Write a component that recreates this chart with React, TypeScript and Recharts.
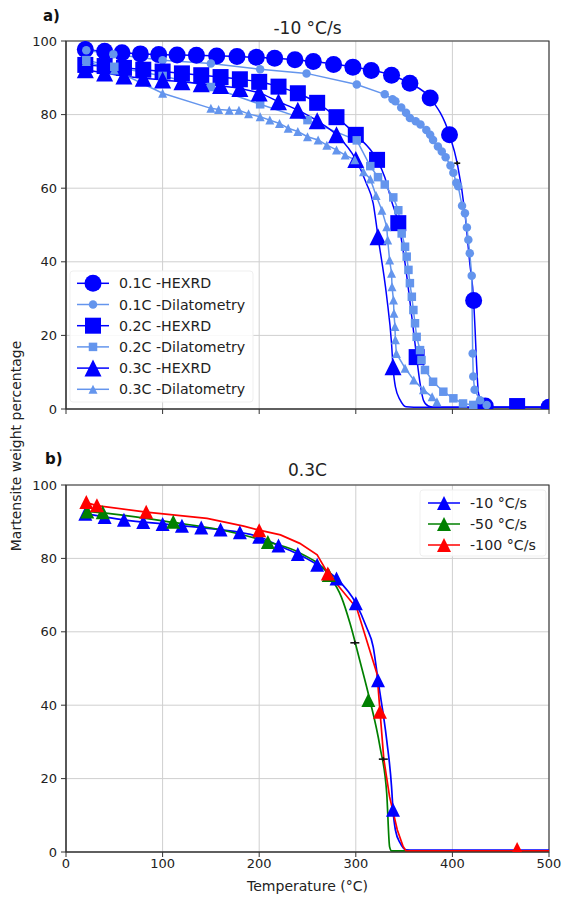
import React from "react";
import { ComposedChart, Line, XAxis, YAxis, CartesianGrid, ReferenceArea } from "recharts";

type Pt = [number, number];

const xTicks = [0, 100, 200, 300, 400, 500];
const yTicks = [0, 20, 40, 60, 80, 100];

// panel a) -10 °C/s, markers and fitted curves
const hexrd01: Pt[] = [
  [20, 97.7], [40, 97.2], [58, 96.8], [77, 96.5], [96, 96.3], [115, 96.2], [135, 96.1], [156, 95.9],
  [177, 95.8], [197, 95.6], [216, 95.3], [237, 94.9], [256, 94.4], [277, 93.6], [297, 92.9], [316, 92.0],
  [337, 90.7], [356, 88.5], [377, 84.5], [397, 74.5], [422, 29.5], [434, 0.8], [500, 0.5],
];
const hexrd01Fit: Pt[] = [
  [20, 97.7], [58, 96.8], [96, 96.3], [135, 96.1], [177, 95.8], [216, 95.3], [256, 94.4], [297, 92.9],
  [337, 90.7], [356, 88.5], [377, 84.5], [397, 74.5], [405, 66.8], [413, 53.2], [418, 39.6], [422, 29.5],
  [423.5, 21.5], [425, 12.4], [427, 4.3], [432, 1.0], [440, 0.5], [500, 0.5],
];
const dil01: Pt[] = [
  [21, 97.5], [49, 96.4], [100, 94.8], [150, 93.9], [201, 92.3], [249, 91.2], [301, 88.2], [330, 85.5],
  [338, 84.2], [341, 83.6], [347, 81.9], [352, 80.5], [356, 79.1], [362, 78.2], [367, 77.3], [373, 75.8],
  [377, 74.5], [380, 73.1], [385, 71.3], [389, 70.0], [393, 68.4], [398, 66.2], [401, 64.2], [404, 61.5],
  [406, 60.5], [410, 55.2], [413, 53.2], [415, 49.3], [416.5, 46], [418, 42.3], [420, 36.2], [421, 15.1],
  [421.6, 8.8], [423, 5.2], [428.6, 2.4], [435.5, 1.1],
];
const hexrd02: Pt[] = [
  [20, 93.5], [40, 93.2], [60, 92.7], [80, 92.2], [100, 91.7], [120, 91.2], [140, 90.7], [160, 90.2],
  [180, 89.6], [200, 88.9], [220, 87.6], [240, 85.8], [260, 83.2], [280, 79.3], [300, 74.5], [322, 67.7],
  [344, 50.5], [363, 14.1], [467, 0.8],
];
const hexrd02Fit: Pt[] = [
  [20, 93.5], [60, 92.7], [100, 91.7], [140, 90.7], [180, 89.6], [200, 88.9], [220, 87.6], [240, 85.8],
  [260, 83.2], [280, 79.3], [300, 74.5], [322, 67.7], [330, 63], [337, 56.5], [344, 50.5], [351, 39.6],
  [358, 25], [363, 14.1], [366.5, 7], [370, 2.4], [375, 0.8], [380, 0.5], [500, 0.5],
];
const dil02: Pt[] = [
  [21, 94.8], [50, 93], [100, 90.5], [150, 87.5], [201, 82.8], [250, 78.5], [301, 73], [315, 66],
  [323, 63], [330, 61], [338.8, 57.5], [344, 54], [347.5, 47.7], [351, 44.1], [352.7, 41.4], [354.5, 37.8],
  [356, 34.2], [358, 30.5], [359.6, 26.9], [361.3, 23.3], [363, 19.6], [366.5, 16], [368, 13.3],
  [371.6, 10.6], [380, 7.4], [390.6, 4.7], [401, 2.9], [411, 1.5], [421.6, 1.1],
];
const hexrd03: Pt[] = [
  [20, 92.2], [40, 91.3], [60, 90.5], [80, 89.9], [100, 89.4], [120, 88.9], [140, 88.4], [160, 87.9],
  [180, 87.1], [200, 85.9], [220, 83.5], [240, 81.2], [260, 78.3], [280, 74.5], [300, 67.8], [323, 46.8],
  [338.5, 11.5],
];
const hexrd03Fit: Pt[] = [
  [20, 92.2], [60, 90.5], [100, 89.4], [140, 88.4], [180, 87.1], [200, 85.9], [220, 83.5], [240, 81.2],
  [260, 78.3], [280, 74.5], [300, 67.8], [311, 61.3], [318, 55.9], [323, 46.8], [332, 30.5], [337, 17.8],
  [338.5, 11.5], [341, 6], [346, 2.4], [352, 0.6], [360, 0.5], [500, 0.5],
];
const dil03: Pt[] = [
  [21, 94.4], [50, 92.1], [100, 85.8], [150, 81.7], [158, 81.4], [169, 81.2], [179, 81.2], [189, 80.2],
  [201, 79.4], [211, 78.5], [221, 77.6], [230, 76.3], [240, 75.4], [250, 74.0], [261, 73.1], [270, 71.7],
  [280, 70.4], [289, 69.0], [299, 67.7], [308, 64.5], [315, 62.5], [321, 58], [327, 54], [332, 49.5],
  [333, 45.9], [335, 40.5], [337, 36.9], [337.5, 33.2], [339, 29.6], [339.5, 26], [340.5, 22.4], [341, 18.8],
  [342, 15.1], [351, 11.1], [360, 7.9], [370, 5.2], [379, 3.3], [384, 2.0],
];
const marksA: Pt[] = [[405, 66.8]];

// panel b) 0.3C at three cooling rates (-10 °C/s reuses hexrd03)
const rate50: Pt[] = [[22, 92.8], [38, 92.6], [111, 90], [209, 84.5], [272, 75.5], [313, 41.4]];
const rate50Line: Pt[] = [
  [22, 92.8], [38, 92.4], [111, 89.8], [160, 87.8], [209, 84.5], [242, 81.5], [272, 75.5], [285, 69.5],
  [294, 62.3], [304, 52.3], [314, 42], [325, 28.7], [332, 16], [335, 1.4], [337, 0.3], [500, 0.3],
];
const rate100: Pt[] = [[21, 95.4], [32, 94.5], [83, 92.7], [200, 87.7], [271, 75.9], [325, 38.2], [467, 0.8]];
const rate100Line: Pt[] = [
  [21, 95.2], [32, 94.4], [83, 92.6], [146, 90.9], [184, 88.8], [200, 87.7], [222, 86.4], [242, 84.1],
  [260, 81], [271, 76], [301, 66.4], [322, 48.5], [325, 38.5], [329, 25.3], [335, 15], [343, 6],
  [349, 1.5], [352, 0.3], [500, 0.3],
];
const marksB: Pt[] = [[299, 57], [328.5, 25.3]];

const legendA = ["0.1C -HEXRD", "0.1C -Dilatometry", "0.2C -HEXRD", "0.2C -Dilatometry", "0.3C -HEXRD", "0.3C -Dilatometry"];
const legendB = ["-10 °C/s", "-50 °C/s", "-100 °C/s"];

const BLUE = "#0000ff";
const LIGHT = "#6495ed";
const GREEN = "#008000";
const RED = "#ff0000";
const FONT = "'DejaVu Sans', Verdana, sans-serif";

type Shape = "circle" | "square" | "triangle" | "plus";

const rows = (pts: Pt[]) => pts.map(([t, v]) => ({ t, v }));

function mark(shape: Shape, size: number, color: string, cx: number, cy: number, key?: string) {
  const h = size / 2;
  if (shape === "circle") return <circle key={key} cx={cx} cy={cy} r={h} fill={color} />;
  if (shape === "square") return <rect key={key} x={cx - h} y={cy - h} width={size} height={size} fill={color} />;
  if (shape === "triangle")
    return <polygon key={key} points={`${cx},${cy - h} ${cx - h},${cy + h} ${cx + h},${cy + h}`} fill={color} />;
  return (
    <g key={key} stroke={color} strokeWidth={1.6}>
      <line x1={cx - h} y1={cy} x2={cx + h} y2={cy} />
      <line x1={cx} y1={cy - 2} x2={cx} y2={cy + 2} />
    </g>
  );
}

const dot = (shape: Shape, size: number, color: string) => (p: any) => {
  const k = `d${p.index}`;
  if (p.cx == null || p.cy == null || isNaN(p.cx) || isNaN(p.cy)) return <g key={k} />;
  return mark(shape, size, color, p.cx, p.cy, k);
};

function curve(pts: Pt[], color: string, type: "linear" | "monotoneX", width = 1.5) {
  return (
    <Line data={rows(pts)} dataKey="v" type={type} stroke={color} strokeWidth={width}
      dot={false} activeDot={false} isAnimationActive={false} />
  );
}

function markers(pts: Pt[], shape: Shape, size: number, color: string) {
  return (
    <Line data={rows(pts)} dataKey="v" stroke="none" dot={dot(shape, size, color)}
      activeDot={false} isAnimationActive={false} />
  );
}

const tickStyle = { fill: "#222", fontSize: 13, fontFamily: FONT };

function axes(showX: boolean) {
  return [
    <CartesianGrid key="g" stroke="#cfcfcf" strokeWidth={1} />,
    <XAxis key="x" type="number" dataKey="t" domain={[0, 500]} ticks={xTicks} interval={0} allowDataOverflow
      height={25} tickSize={5} tickMargin={2} tick={tickStyle}
      tickFormatter={showX ? (v: number) => String(v) : () => ""}
      axisLine={{ stroke: "#333", strokeWidth: 1.1 }} tickLine={{ stroke: "#333" }} />,
    <YAxis key="y" type="number" dataKey="v" domain={[0, 100]} ticks={yTicks} interval={0} allowDataOverflow
      width={36} tickSize={5} tickMargin={4} tick={tickStyle}
      axisLine={{ stroke: "#333", strokeWidth: 1.1 }} tickLine={{ stroke: "#333" }} />,
  ];
}

function frame() {
  return <ReferenceArea x1={0} x2={500} y1={0} y2={100} fill="none" stroke="#333" strokeWidth={1.1} />;
}

function LegendRow({ x, y, color, shape, size, label }: { x: number; y: number; color: string; shape: Shape; size: number; label: string }) {
  return (
    <g>
      <line x1={x} y1={y} x2={x + 32} y2={y} stroke={color} strokeWidth={1.5} />
      {mark(shape, size, color, x + 16, y)}
      <text x={x + 42} y={y + 5} fontSize={14.2} fill="#222">{label}</text>
    </g>
  );
}

export default function App() {
  const topStyles: [string, Shape, number][] = [
    [BLUE, "circle", 17], [LIGHT, "circle", 8.5], [BLUE, "square", 16],
    [LIGHT, "square", 8.5], [BLUE, "triangle", 17], [LIGHT, "triangle", 9],
  ];
  const botColors = [BLUE, GREEN, RED];
  return (
    <div style={{ position: "relative", width: 563, height: 899, background: "#fff", fontFamily: FONT }}>
      <style>{"body{margin:0}"}</style>
      <div style={{ position: "absolute", left: 0, top: 0 }}>
        <ComposedChart width={563} height={440} margin={{ top: 41, right: 14, left: 30, bottom: 6 }}>
          {axes(false)}
          {curve(hexrd01Fit, BLUE, "monotoneX")}
          {markers(hexrd01, "circle", 17, BLUE)}
          {curve(dil01, LIGHT, "linear")}
          {markers(dil01, "circle", 8.5, LIGHT)}
          {curve(hexrd02Fit, BLUE, "monotoneX")}
          {markers(hexrd02, "square", 16, BLUE)}
          {curve(dil02, LIGHT, "linear")}
          {markers(dil02, "square", 8.5, LIGHT)}
          {curve(hexrd03Fit, BLUE, "monotoneX")}
          {markers(hexrd03, "triangle", 17, BLUE)}
          {curve(dil03, LIGHT, "linear")}
          {markers(dil03, "triangle", 9, LIGHT)}
          {markers(marksA, "plus", 6, "#111")}
          {frame()}
        </ComposedChart>
      </div>
      <div style={{ position: "absolute", left: 0, top: 440 }}>
        <ComposedChart width={563} height={459} margin={{ top: 45, right: 14, left: 30, bottom: 22 }}>
          {axes(true)}
          {curve(hexrd03Fit, BLUE, "monotoneX", 1.7)}
          {markers(hexrd03, "triangle", 14, BLUE)}
          {curve(rate50Line, GREEN, "monotoneX", 1.7)}
          {markers(rate50, "triangle", 14, GREEN)}
          {curve(rate100Line, RED, "linear", 1.7)}
          {markers(rate100, "triangle", 14, RED)}
          {markers(marksB, "plus", 9, "#111")}
          {frame()}
        </ComposedChart>
      </div>
      <svg width={563} height={899} style={{ position: "absolute", left: 0, top: 0, pointerEvents: "none" }}
        fontFamily={FONT}>
        <text x={43} y={20.5} fontSize={15} fontWeight="bold" fill="#111">a)</text>
        <text x={307.5} y={33.5} fontSize={17} textAnchor="middle" fill="#222">-10 °C/s</text>
        <text x={45} y={464} fontSize={15} fontWeight="bold" fill="#111">b)</text>
        <text x={307.5} y={476} fontSize={17} textAnchor="middle" fill="#222">0.3C</text>
        <text x={307.5} y={891} fontSize={14} textAnchor="middle" fill="#222">Temperature (°C)</text>
        <text transform="translate(21,446) rotate(-90)" fontSize={14} textAnchor="middle" fill="#222">
          Martensite weight percentage
        </text>

        <rect x={70} y={271} width={183} height={131} rx={3} fill="#fff" fillOpacity={0.85} stroke="#efefef" />
        {legendA.map((label, i) => (
          <LegendRow key={label} x={77} y={283.3 + i * 21.2} color={topStyles[i][0]} shape={topStyles[i][1]}
            size={topStyles[i][2]} label={label} />
        ))}

        <rect x={420} y={490} width={126} height={66} rx={3} fill="#fff" fillOpacity={0.85} stroke="#efefef" />
        {legendB.map((label, i) => (
          <LegendRow key={label} x={428} y={503 + i * 21} color={botColors[i]} shape="triangle" size={14}
            label={label} />
        ))}
      </svg>
    </div>
  );
}
